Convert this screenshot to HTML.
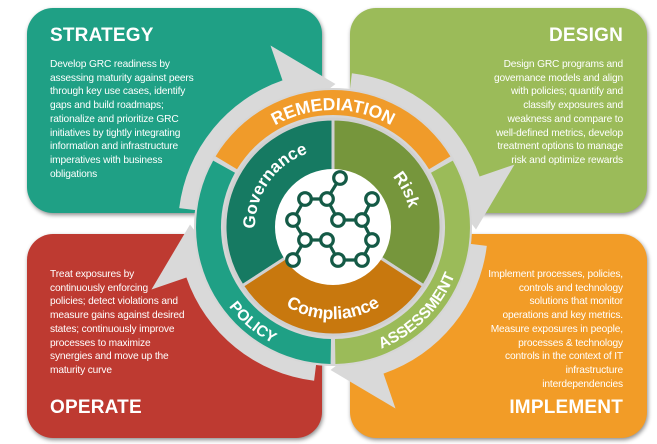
<!DOCTYPE html>
<html><head><meta charset="utf-8"><style>
html,body{margin:0;padding:0;background:#fff;}
body{width:657px;height:444px;position:relative;overflow:hidden;font-family:"Liberation Sans",sans-serif;}
.box{position:absolute;border-radius:26px;box-shadow:1px 2px 4px rgba(0,0,0,.45);color:#fff;}
.h{position:absolute;font-weight:bold;font-size:19px;letter-spacing:0.2px;}
.t{position:absolute;font-size:10.2px;line-height:13.7px;white-space:nowrap;letter-spacing:-0.15px;}
svg{position:absolute;left:0;top:0;}
</style></head><body>
<div class="box" style="left:27px;top:8px;width:295px;height:205px;background:#1fa085;">
 <div class="h" style="left:23px;top:17px;">STRATEGY</div>
 <div class="t" style="left:23px;top:50px;">Develop GRC readiness by<br>assessing maturity against peers<br>through key use cases, identify<br>gaps and build roadmaps;<br>rationalize and prioritize GRC<br>initiatives by tightly integrating<br>information and infrastructure<br>imperatives with business<br>obligations</div>
</div>
<div class="box" style="left:350px;top:8px;width:297px;height:205px;background:#9bbb59;">
 <div class="h" style="right:24px;top:17px;">DESIGN</div>
 <div class="t" style="right:24px;top:50px;text-align:right;">Design GRC programs and<br>governance models and align<br>with policies; quantify and<br>classify exposures and<br>weakness and compare to<br>well-defined metrics, develop<br>treatment options to manage<br>risk and optimize rewards</div>
</div>
<div class="box" style="left:27px;top:234px;width:295px;height:204px;background:#be3a31;">
 <div class="h" style="left:23px;top:163px;">OPERATE</div>
 <div class="t" style="left:23px;top:34px;">Treat exposures by<br>continuously enforcing<br>policies; detect violations and<br>measure gains against desired<br>states; continuously improve<br>processes to maximize<br>synergies and move up the<br>maturity curve</div>
</div>
<div class="box" style="left:350px;top:234px;width:297px;height:204px;background:#f29c27;">
 <div class="h" style="right:24px;top:163px;">IMPLEMENT</div>
 <div class="t" style="right:24px;top:34px;text-align:right;">Implement processes, policies,<br>controls and technology<br>solutions that monitor<br>operations and key metrics.<br>Measure exposures in people,<br>processes &amp; technology<br>controls in the context of IT<br>infrastructure<br>interdependencies</div>
</div>
<svg width="657" height="444" viewBox="0 0 657 444">
 <defs>
  <path id="arr" d="M206.0,211.4 L179.2,208.1 A155 155 0 0 1 282.5,80.4 L270.5,45.5 L335.5,84.0 L294.6,115.4 L291.3,106.0 A128 128 0 0 0 206.0,211.4 Z"/>
  <path id="pRem" d="M237.2,159.9 A117 117 0 0 1 428.8,159.9"/>
  <path id="pAss" d="M321.6,357.5 A131 131 0 0 0 463.5,215.6"/>
  <path id="pPol" d="M202,227 A131 131 0 0 0 355.7,356.0"/>
  <path id="pGov" d="M257.7,247.2 A78 78 0 0 1 326.2,149.3"/>
  <path id="pRisk" d="M350.5,151.0 A78 78 0 0 1 404.8,257.5"/>
  <path id="pComp" d="M253.3,273 A92 92 0 0 0 412.7,273"/>
 </defs>
 <g fill="#d9d9d9">
  <use href="#arr"/>
  <use href="#arr" transform="rotate(90 333 227)"/>
  <use href="#arr" transform="rotate(180 333 227)"/>
  <use href="#arr" transform="rotate(270 333 227)"/>
 </g>
 <circle cx="333" cy="227" r="139" fill="#d6d6d6"/>
 <path d="M215.6,156.4 A137 137 0 0 1 450.4,156.4 L429.0,169.3 A112 112 0 0 0 237.0,169.3 Z" fill="#f09b2a"/>
 <path d="M452.8,160.6 A137 137 0 0 1 335.4,364.0 L335.0,339.0 A112 112 0 0 0 431.0,172.7 Z" fill="#9bbb59"/>
 <path d="M330.6,364.0 A137 137 0 0 1 213.2,160.6 L235.0,172.7 A112 112 0 0 0 331.0,339.0 Z" fill="#1fa085"/>
 <g stroke="#d0d0d0" stroke-width="3">
  <path d="M333,227 L242.4,285.8 A108 108 0 0 1 333,119 Z" fill="#167a62"/>
  <path d="M333,227 L333,119 A108 108 0 0 1 423.6,285.8 Z" fill="#76963c"/>
  <path d="M333,227 L423.6,285.8 A108 108 0 0 1 242.4,285.8 Z" fill="#c8780e"/>
 </g>
 <circle cx="333" cy="227" r="58" fill="#fff"/>
 <g font-family="Liberation Sans, sans-serif" font-weight="bold" fill="#fff" text-anchor="middle">
  <text font-size="17.5"><textPath href="#pRem" startOffset="50%">REMEDIATION</textPath></text>
  <text font-size="15.5"><textPath href="#pAss" startOffset="50%">ASSESSMENT</textPath></text>
  <text font-size="15.5"><textPath href="#pPol" startOffset="50%">POLICY</textPath></text>
  <text font-size="17"><textPath href="#pGov" startOffset="50%">Governance</textPath></text>
  <text font-size="17"><textPath href="#pRisk" startOffset="50%">Risk</textPath></text>
  <text font-size="17.5"><textPath href="#pComp" startOffset="50%">Compliance</textPath></text>
 </g>
 <g stroke="#145a46" stroke-width="3.2" fill="none">
  <path d="M340,178 L327,199 M305,199 L327,199 M305,199 L293,220 M293,220 L305,240 M327,199 L338,220 M338,220 L362,220 M362,220 L372,199 M362,220 L372,240 M305,240 L327,240 M327,240 L338,260 M338,260 L362,260 M362,260 L372,240 M305,240 L293,260"/>
  <g fill="#fff">
   <circle cx="340" cy="178" r="6.3"/><circle cx="305" cy="199" r="6.3"/><circle cx="327" cy="199" r="6.3"/><circle cx="372" cy="199" r="6.3"/>
   <circle cx="293" cy="220" r="6.3"/><circle cx="338" cy="220" r="6.3"/><circle cx="362" cy="220" r="6.3"/>
   <circle cx="305" cy="240" r="6.3"/><circle cx="327" cy="240" r="6.3"/><circle cx="372" cy="240" r="6.3"/>
   <circle cx="293" cy="260" r="6.3"/><circle cx="338" cy="260" r="6.3"/><circle cx="362" cy="260" r="6.3"/>
  </g>
 </g>
</svg>
</body></html>
